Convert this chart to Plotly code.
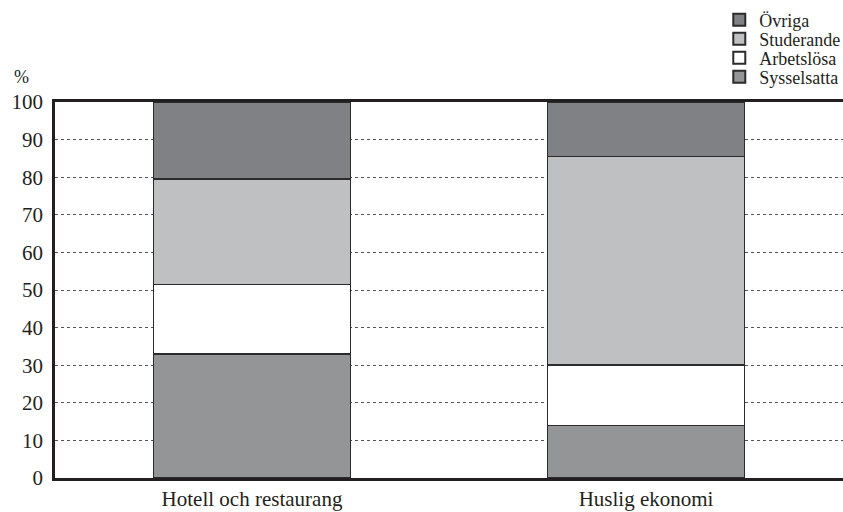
import plotly.graph_objects as go

categories = ["Hotell och restaurang", "Huslig ekonomi"]
sysselsatta = [33.0, 14.0]
arbetslosa = [18.5, 16.0]
studerande = [28.0, 55.5]
ovriga = [20.5, 14.5]
y_ticks = [0, 10, 20, 30, 40, 50, 60, 70, 80, 90, 100]

series = [
    ("Sysselsatta", sysselsatta, "#949597", "legend4"),
    ("Arbetslösa", arbetslosa, "#ffffff", "legend3"),
    ("Studerande", studerande, "#bfc0c2", "legend2"),
    ("Övriga", ovriga, "#808184", "legend"),
]

fig = go.Figure()
for name, vals, col, lg in series:
    fig.add_trace(go.Bar(
        x=categories, y=vals, name=name, width=0.5, legend=lg,
        marker=dict(color=col, line=dict(color="#2b2b2b", width=1.5)),
    ))

font = "Liberation Serif"
W, H = 843, 512


def leg(row_center_px):
    return dict(
        x=0.843, y=1 - row_center_px / H, xref="paper", yref="container",
        xanchor="left", yanchor="middle",
        font=dict(size=18, family=font, color="#231f20"),
        itemsizing="constant", bgcolor="rgba(0,0,0,0)", itemwidth=30,
    )


fig.update_layout(
    barmode="stack",
    width=W, height=H,
    margin=dict(l=55, r=0, t=102, b=34, autoexpand=False),
    paper_bgcolor="white", plot_bgcolor="white",
    font=dict(family=font, size=21, color="#231f20"),
    showlegend=True,
    legend=leg(20), legend2=leg(39), legend3=leg(58), legend4=leg(77),
    xaxis=dict(
        range=[-0.5, 1.5], showline=True, linecolor="#231f20", linewidth=2.5,
        mirror=True, ticks="", showgrid=False, tickfont=dict(size=21),
    ),
    yaxis=dict(
        range=[0, 100], tickvals=y_ticks, showline=True, linecolor="#231f20",
        linewidth=2.5, ticks="", showgrid=True, gridcolor="#555555",
        griddash="dot", gridwidth=1, zeroline=False, tickfont=dict(size=21),
        ticklabelstandoff=5,
    ),
)
fig.add_annotation(text="%", xref="paper", yref="paper", x=-0.042, y=1.066,
                   xanchor="center", yanchor="middle", showarrow=False,
                   font=dict(size=18, family=font))
fig.write_html("out.html", config={"displayModeBar": False},
               post_script="document.body.style.margin='0';document.body.style.overflow='hidden';")
